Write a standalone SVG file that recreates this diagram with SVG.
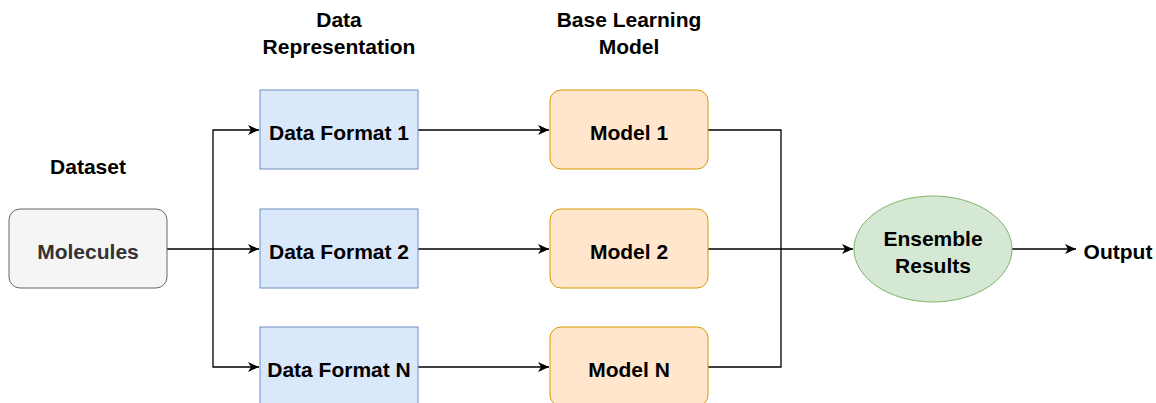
<svg xmlns="http://www.w3.org/2000/svg" width="1156" height="403" viewBox="0 0 1156 403">
<defs>
<style>
text{font-family:"Liberation Sans",Arial,sans-serif;font-weight:bold;font-size:21px;text-anchor:middle;fill:#000}
.ds{fill:#f5f5f5;stroke:#666666;stroke-width:1}
.df{fill:#dae8fc;stroke:#6c8ebf;stroke-width:1}
.md{fill:#ffe6cc;stroke:#d79b00;stroke-width:1}
.en{fill:#d5e8d4;stroke:#82b366;stroke-width:1}
.c{fill:none;stroke:#000;stroke-width:1.3}
</style>
<marker id="ar" markerWidth="12" markerHeight="11" refX="11" refY="5.5" orient="auto" markerUnits="userSpaceOnUse">
<path d="M0,0.5 L11,5.5 L0,10.5 L3,5.5 Z" fill="#000"/>
</marker>
</defs>
<rect width="1156" height="403" fill="#fff"/>
<g id="labels">
<text x="88" y="174">Dataset</text>
<text x="339" y="27">Data</text>
<text x="339" y="54">Representation</text>
<text x="629" y="27">Base Learning</text>
<text x="629" y="54">Model</text>
</g>
<g id="connectors">
<path class="c" d="M167,249 L259,249" marker-end="url(#ar)"/>
<path class="c" d="M213,249 L213,130 L259,130" marker-end="url(#ar)"/>
<path class="c" d="M213,249 L213,367 L259,367" marker-end="url(#ar)"/>
<path class="c" d="M418,130 L549,130" marker-end="url(#ar)"/>
<path class="c" d="M418,249 L549,249" marker-end="url(#ar)"/>
<path class="c" d="M418,367 L549,367" marker-end="url(#ar)"/>
<path class="c" d="M708,249 L853,249" marker-end="url(#ar)"/>
<path class="c" d="M708,130 L781,130 L781,249"/>
<path class="c" d="M708,367 L781,367 L781,249"/>
<path class="c" d="M1012,249 L1076,249" marker-end="url(#ar)"/>
</g>
<g id="molecules">
<rect class="ds" x="9" y="209" width="158" height="79" rx="11"/>
<text x="88" y="259" style="fill:#333333">Molecules</text>
</g>
<g id="df1">
<rect class="df" x="260" y="90" width="158" height="79"/>
<text x="339" y="140">Data Format 1</text>
</g>
<g id="df2">
<rect class="df" x="260" y="209" width="158" height="79"/>
<text x="339" y="259">Data Format 2</text>
</g>
<g id="dfn">
<rect class="df" x="260" y="327" width="158" height="79"/>
<text x="339" y="377">Data Format N</text>
</g>
<g id="m1">
<rect class="md" x="550" y="90" width="158" height="79" rx="11"/>
<text x="629" y="140">Model 1</text>
</g>
<g id="m2">
<rect class="md" x="550" y="209" width="158" height="79" rx="11"/>
<text x="629" y="259">Model 2</text>
</g>
<g id="mn">
<rect class="md" x="550" y="327" width="158" height="79" rx="11"/>
<text x="629" y="377">Model N</text>
</g>
<g id="ensemble">
<ellipse class="en" cx="933" cy="249" rx="79" ry="53"/>
<text x="933" y="246">Ensemble</text>
<text x="933" y="273">Results</text>
</g>
<g id="output">
<text x="1118" y="259">Output</text>
</g>
</svg>
